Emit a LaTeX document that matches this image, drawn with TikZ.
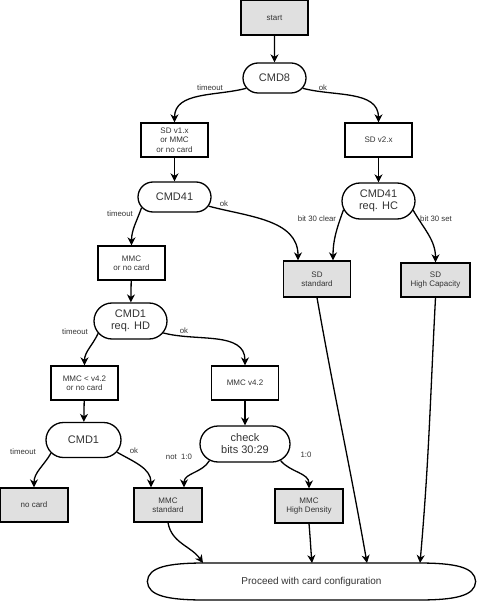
\documentclass[tikz,border=0pt]{standalone}
\usepackage{fontspec}
\setmainfont{Liberation Sans}
\usetikzlibrary{arrows.meta,shapes.misc,shapes.geometric}

\begin{document}
\begin{tikzpicture}[x=1pt, y=1pt, line width=1.3pt, >={Stealth[length=8pt, width=8pt, inset=2.5pt]}]

\tikzstyle{every node}=[text=black!80, align=center, font=\fontsize{8}{9.5}\selectfont]
\tikzstyle{state}=[draw, minimum width=67pt, minimum height=34pt, inner sep=1pt]
\tikzstyle{final}=[state, fill=black!12]
\tikzstyle{cmd}=[draw, rounded rectangle, minimum width=75pt, minimum height=30pt, inner sep=1pt, font=\fontsize{11}{12}\selectfont]
\tikzstyle{lbl}=[font=\fontsize{7.8}{8.5}\selectfont, inner sep=0pt]

\useasboundingbox (0,0) rectangle (476,-601);

\node [final, minimum height=35pt] (start) at (274.5,-17.5) {start};
\node [cmd, minimum width=65pt] (cmd8) at (274.5,-78) {CMD8};
\node [state] (sdv1) at (174.5,-140) {SD v1.x\\or MMC\\or no card};
\node [state] (sdv2) at (378.5,-140) {SD v2.x};
\node [cmd] (acmd) at (174.5,-197) {CMD41};
\node [cmd, minimum height=36pt] (acmdhc) at (378.5,-201) {CMD41\\req. HC};
\node [state] (mmc) at (131.5,-263) {MMC\\or no card};
\node [final, minimum height=36pt] (sdstd) at (317,-279) {SD\\standard};
\node [final, minimum width=69pt] (sdhc) at (435.5,-280) {SD\\High Capacity};
\node [cmd, minimum height=36pt] (cmd1hd) at (130.5,-321) {CMD1\\req. HD};
\node [state] (mmcold) at (84.5,-383) {MMC < v4.2\\or no card};
\node [state] (mmcnew) at (245,-383) {MMC v4.2};
\node [cmd, minimum width=77pt, minimum height=35pt] (cmd1) at (83.5,-440) {CMD1};
\node [cmd, minimum width=92pt, minimum height=36pt] (check) at (245,-444) {check\\bits 30:29};
\node [final, minimum width=68pt] (nocard) at (34,-505) {no card};
\node [final, minimum width=68pt] (mmcstd) at (168,-505) {MMC\\standard};
\node [final, minimum width=68pt] (mmchd) at (309,-506) {MMC\\High Density};
\node [minimum width=327pt, minimum height=37pt, inner sep=0pt, font=\fontsize{10}{12}\selectfont] (conf) at (311.5,-581.5) {Proceed with card configuration};
\draw (conf.west) .. controls (148,-567) and (168,-563) .. (205,-563) -- (418,-563)
  .. controls (455,-563) and (475,-567) .. (conf.east)
  .. controls (475,-596) and (455,-600) .. (418,-600) -- (205,-600)
  .. controls (168,-600) and (148,-596) .. (conf.west);

\coordinate (in1) at (203,-563);
\coordinate (in2) at (312,-563);
\coordinate (in3) at (367,-563);
\coordinate (in4) at (420,-563);

\draw [->] (start) -- (cmd8);
\draw [->] (cmd8.200) to[out=195, in=90] (sdv1.north);
\draw [->] (cmd8.340) to[out=-15, in=90] (sdv2.north);
\node [lbl] (l1) at (210,-88) {timeout};
\node [lbl] (l2) at (323,-88) {ok};

\draw [->] (sdv1) -- (acmd);
\draw [->] (sdv2) -- (acmdhc);
\draw [->] (acmd.198) to[out=250, in=90] (mmc.north);
\draw [->] (acmd.-15) to[out=-15, in=90] ([xshift=-19pt]sdstd.north);
\node [lbl] (l3) at (120,-214) {timeout};
\node [lbl] (l4) at (224,-204) {ok};

\draw [->] (acmdhc.194) to[out=250, in=90] ([xshift=16pt]sdstd.north);
\draw [->] (acmdhc.-15) to[out=-60, in=90] (sdhc.north);
\node [lbl] (l5) at (317,-219) {bit 30 clear};
\node [lbl] (l6) at (436,-219) {bit 30 set};

\draw [->] (mmc) -- (cmd1hd);
\draw [->] (cmd1hd.201) to[out=245, in=90] (mmcold.north);
\draw [->] (cmd1hd.-20) to[out=-15, in=90] (mmcnew.north);
\node [lbl] (l7) at (75,-332) {timeout};
\node [lbl] (l8) at (184,-331) {ok};

\draw [->] (mmcold) -- (cmd1);
\draw [->] (mmcnew) -- (check);
\draw [->] (cmd1.202) to[out=240, in=90] (nocard.north);
\draw [->] (cmd1.-20) to[out=-30, in=90] ([xshift=-17pt]mmcstd.north);
\node [lbl] (l9) at (23,-452) {timeout};
\node [lbl] (l10) at (134,-451) {ok};

\draw [->] (check.205) to[out=240, in=90] ([xshift=16pt]mmcstd.north);
\draw [->] (check.-25) to[out=-50, in=90] (mmchd.north);
\node [lbl] (l11) at (179,-457) {not\ \ 1:0};
\node [lbl] (l12) at (306,-455) {1:0};

\draw [->] (mmcstd.south) to[out=-80, in=125] (in1);
\draw [->] (mmchd.south) to[out=-85, in=95] (in2);
\draw [->] (sdstd.south) to[out=-80, in=100] (in3);
\draw [->] (sdhc.south) to[out=-93, in=85] (in4);

\end{tikzpicture}
\end{document}
